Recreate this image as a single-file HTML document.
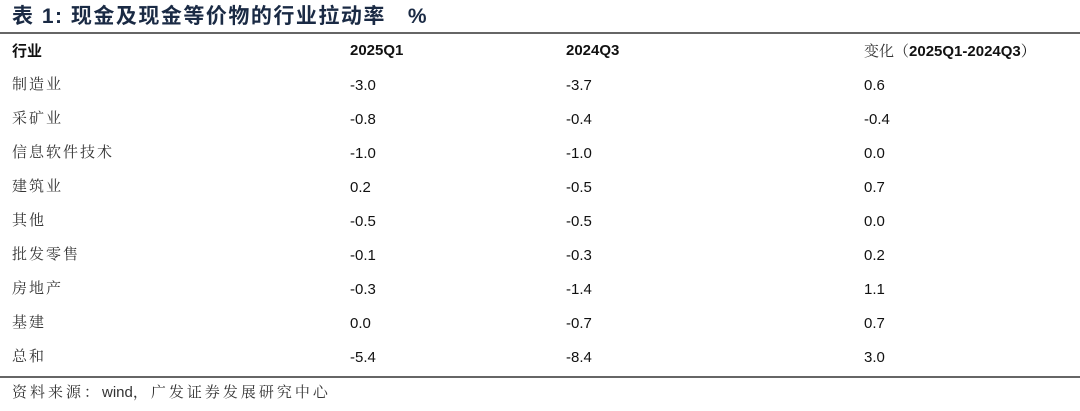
<!DOCTYPE html>
<html><head><meta charset="utf-8"><style>
body{margin:0;width:1080px;height:411px;background:#fff;position:relative;overflow:hidden;font-family:"Liberation Sans","Noto Sans CJK SC",sans-serif;}
.t{position:absolute;white-space:nowrap;line-height:1;}
.title{left:12px;top:6px;font-size:21px;font-weight:bold;color:#1a2a44;letter-spacing:1.5px;}
.rule{position:absolute;left:0;width:1080px;height:2px;background:#666;}
.h{font-size:15px;font-weight:bold;color:#111;}
.c{font-size:15px;color:#333;font-family:"Liberation Serif","Noto Serif CJK SC",serif;letter-spacing:2px;}
.n{font-size:15px;color:#111;}
.src{left:12px;top:385px;font-size:15px;color:#333;font-family:"Liberation Sans","Noto Serif CJK SC",serif;letter-spacing:3px;}
</style></head><body>
<div class="t title">表 1:&nbsp;现金及现金等价物的行业拉动率&nbsp;&nbsp;&nbsp;%</div>
<div class="rule" style="top:32px"></div>
<div class="t h" style="left:12px;top:43px;font-family:'Noto Sans CJK SC',sans-serif">行业</div>
<div class="t h" style="left:350px;top:43px">2025Q1</div>
<div class="t h" style="left:566px;top:43px">2024Q3</div>
<div class="t h" style="left:864px;top:43px"><span style="font-weight:normal;font-family:'Noto Serif CJK SC',serif;color:#333">变化（</span>2025Q1-2024Q3<span style="font-weight:normal;font-family:'Noto Serif CJK SC',serif">）</span></div>
<div id="rows"></div>
<div class="rule" style="top:376px"></div>
<div class="t src">资料来源：<span style="letter-spacing:0">wind</span>，广发证券发展研究中心</div>
<script>
const industries=["制造业","采矿业","信息软件技术","建筑业","其他","批发零售","房地产","基建","总和"];
const q1_2025=["-3.0","-0.8","-1.0","0.2","-0.5","-0.1","-0.3","0.0","-5.4"];
const q3_2024=["-3.7","-0.4","-1.0","-0.5","-0.5","-0.3","-1.4","-0.7","-8.4"];
const change=["0.6","-0.4","0.0","0.7","0.0","0.2","1.1","0.7","3.0"];
const host=document.getElementById('rows');
industries.forEach((name,i)=>{
  const top=78+i*34;
  const cells=[[name,12,'c'],[q1_2025[i],350,'n'],[q3_2024[i],566,'n'],[change[i],864,'n']];
  cells.forEach((c,j)=>{
    const d=document.createElement('div');
    d.className='t '+c[2];
    d.style.left=c[1]+'px';d.style.top=top+'px';
    d.textContent=c[0];
    
    
    host.appendChild(d);
  });
});
</script>
</body></html>
